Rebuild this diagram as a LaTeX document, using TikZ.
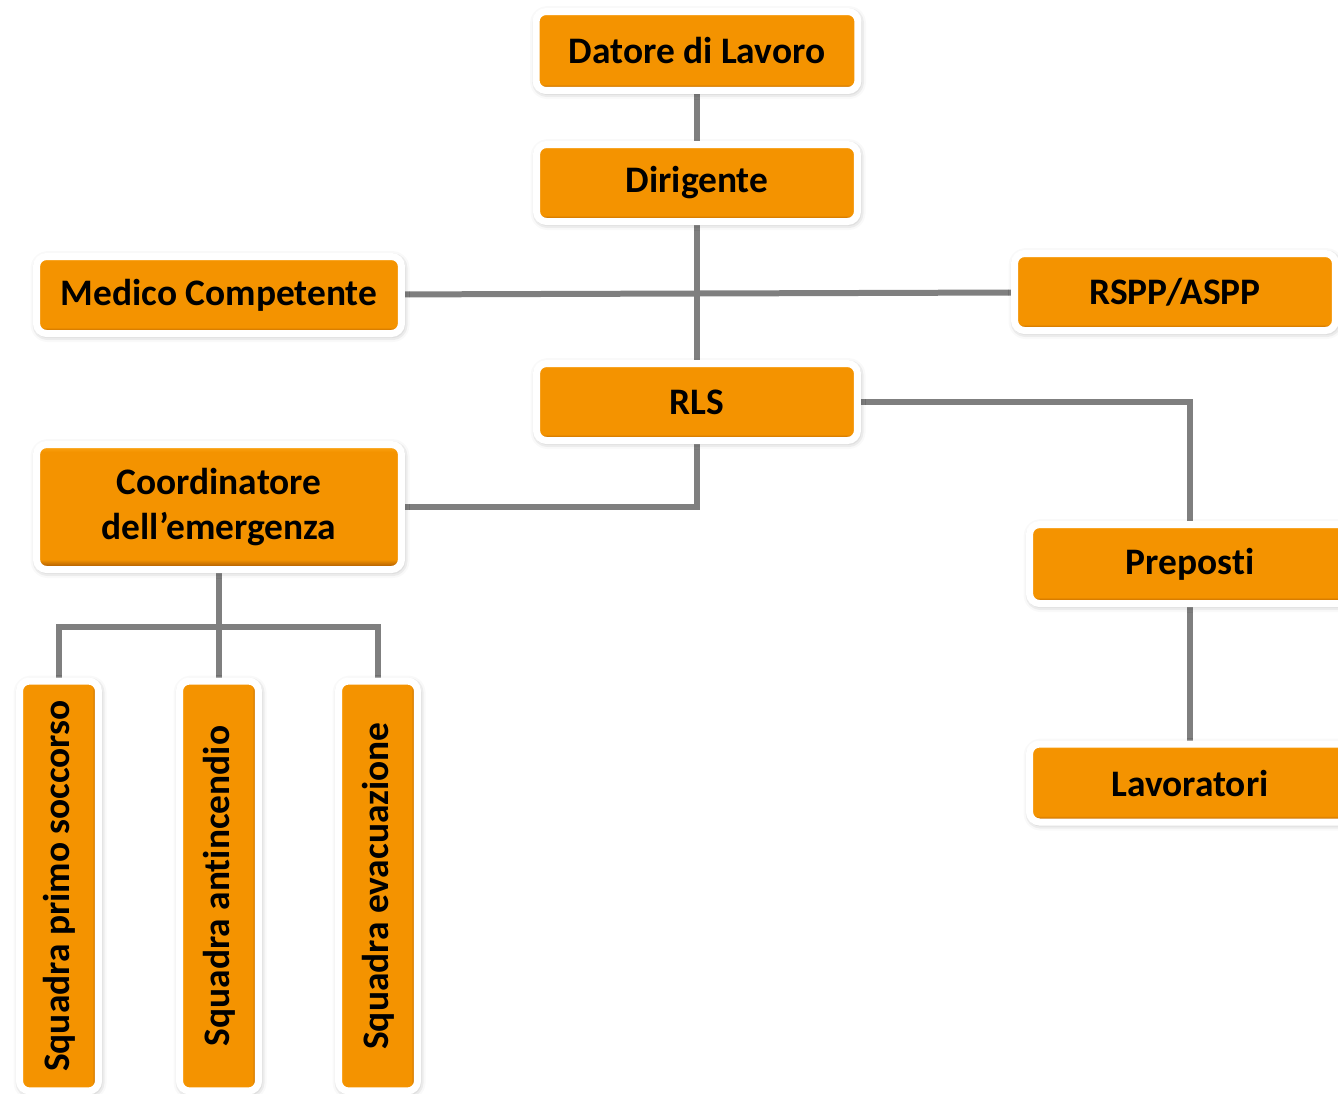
\documentclass[tikz,border=0pt]{standalone}
\usepackage{fontspec}
\setmainfont[Ligatures=NoCommon]{Carlito}
\usetikzlibrary{backgrounds, shadows.blur}
\definecolor{boxorange}{RGB}{244,147,0}
\definecolor{boxlight}{RGB}{255,170,25}
\definecolor{boxdark}{RGB}{170,90,0}
\definecolor{linkgray}{RGB}{127,127,127}
\pgfdeclareverticalshading{boxshade}{100bp}{color(0bp)=(boxdark); color(25bp)=(boxdark); color(26bp)=(boxdark); color(29bp)=(boxorange); color(72bp)=(boxorange); color(75bp)=(boxlight); color(100bp)=(boxlight)}

\begin{document}
\begin{tikzpicture}[x=0.02cm, y=-0.02cm,
role/.style={draw=white, line width=0.14cm, rounded corners=0.2cm, shade, shading=boxshade,
  font=\fontsize{21.3}{26}\selectfont\bfseries, align=center, inner sep=0pt,
  minimum width=6.42cm, minimum height=1.54cm,
  blur shadow={shadow xshift=0.6pt, shadow yshift=-0.9pt, shadow blur radius=4pt, shadow opacity=40}},
wide/.style={role, minimum width=7.3cm},
team/.style={role, rotate=90, shading angle=90, minimum width=8.2cm, minimum height=1.58cm},
link/.style={draw=linkgray, line width=0.12cm}]
\useasboundingbox (0,0) rectangle (1338,1093);
\clip (0,0) rectangle (1338,1093);

\node [role, minimum width=6.44cm, minimum height=1.58cm] (datore) at (697,51) {Datore di Lavoro};
\node [role] (dirigente) at (697,183) {Dirigente};
\node [wide] (medico) at (219,295) {Medico Competente};
\node [role] (rspp) at (1175,292) {RSPP/ASPP};
\node [role] (rls) at (697,402) {RLS};
\node [wide, minimum height=2.5cm] (coord) at (219,507) {Coordinatore\\dell’emergenza};
\node [role, minimum height=1.58cm] (preposti) at (1190,564) {Preposti};
\node [role, minimum height=1.56cm] (lavoratori) at (1190,783) {Lavoratori};
\node [team] (sq1) at (59,886) {Squadra primo soccorso};
\node [team] (sq2) at (219,886) {Squadra antincendio};
\node [team] (sq3) at (378,886) {Squadra evacuazione};
\coordinate (bar) at (219,627);

\begin{scope}[on background layer]
\draw [link] (datore) -- (dirigente) -- (rls);
\draw [link] (medico) -- (rspp);
\draw [link] (rls) -| (preposti);
\draw [link] (rls) |- (coord);
\draw [link] (coord) -- (sq2);
\draw [link] (sq1.east) |- (bar) -| (sq3.east);
\draw [link] (preposti) -- (lavoratori);
\end{scope}
\end{tikzpicture}
\end{document}
